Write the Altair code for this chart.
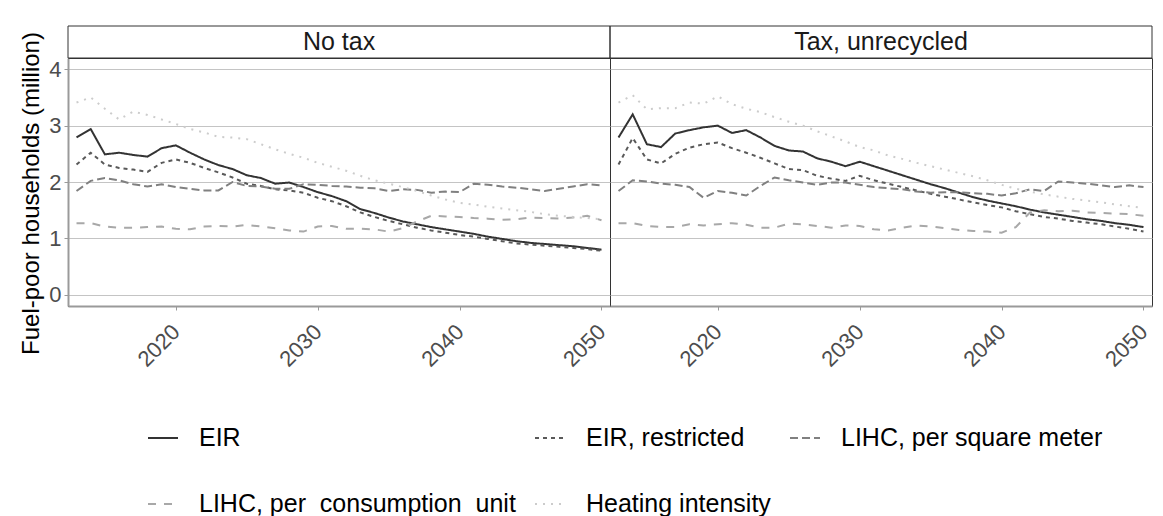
import altair as alt
import pandas as pd

years = list(range(2013, 2051))
panels = ["No tax", "Tax, unrecycled"]
series_names = ["EIR", "EIR, restricted", "LIHC, per square meter",
                "LIHC, per\u00a0 consumption\u00a0 unit", "Heating intensity"]
x_ticks = [2020, 2030, 2040, 2050]
y_ticks = [0, 1, 2, 3, 4]

# ---- No tax ----
notax_eir = [2.79, 2.94, 2.49, 2.52, 2.48, 2.45, 2.60, 2.65, 2.52, 2.40,
             2.30, 2.23, 2.12, 2.07, 1.97, 1.99, 1.91, 1.82, 1.75, 1.66,
             1.52, 1.45, 1.37, 1.30, 1.25, 1.20, 1.16, 1.12, 1.08, 1.03,
             0.99, 0.95, 0.92, 0.90, 0.88, 0.86, 0.83, 0.80]
notax_eir_r = [2.31, 2.52, 2.31, 2.25, 2.22, 2.18, 2.34, 2.40, 2.34, 2.25,
               2.17, 2.08, 1.97, 1.93, 1.87, 1.85, 1.81, 1.72, 1.66, 1.57,
               1.46, 1.38, 1.31, 1.25, 1.19, 1.14, 1.10, 1.06, 1.03, 0.99,
               0.95, 0.91, 0.89, 0.87, 0.85, 0.83, 0.81, 0.78]
notax_lihc_m2 = [1.84, 2.02, 2.07, 2.03, 1.96, 1.92, 1.96, 1.91, 1.88, 1.85,
                 1.85, 2.00, 1.93, 1.92, 1.88, 1.88, 1.96, 1.95, 1.93, 1.92,
                 1.90, 1.89, 1.84, 1.87, 1.86, 1.81, 1.83, 1.82, 1.97, 1.95,
                 1.92, 1.90, 1.87, 1.84, 1.88, 1.92, 1.96, 1.94]
notax_lihc_cu = [1.27, 1.27, 1.21, 1.19, 1.19, 1.20, 1.21, 1.17, 1.16, 1.21,
                 1.22, 1.21, 1.24, 1.21, 1.18, 1.14, 1.12, 1.21, 1.22, 1.17,
                 1.17, 1.16, 1.12, 1.18, 1.30, 1.40, 1.39, 1.38, 1.36, 1.35,
                 1.33, 1.34, 1.37, 1.36, 1.35, 1.37, 1.40, 1.32]
notax_heat = [3.41, 3.50, 3.30, 3.11, 3.25, 3.19, 3.11, 3.03, 2.94, 2.88,
              2.80, 2.79, 2.76, 2.67, 2.58, 2.50, 2.43, 2.34, 2.27, 2.20,
              2.11, 2.03, 1.97, 1.91, 1.84, 1.76, 1.69, 1.63, 1.60, 1.56,
              1.53, 1.50, 1.47, 1.43, 1.40, 1.38, 1.36, 1.34]

# ---- Tax, unrecycled ----
tax_eir = [2.79, 3.20, 2.67, 2.62, 2.86, 2.92, 2.97, 3.00, 2.87, 2.92,
           2.79, 2.64, 2.56, 2.54, 2.42, 2.36, 2.28, 2.36, 2.28, 2.20,
           2.12, 2.04, 1.96, 1.89, 1.81, 1.73, 1.67, 1.62, 1.57, 1.51,
           1.46, 1.42, 1.38, 1.34, 1.31, 1.27, 1.24, 1.20]
tax_eir_r = [2.31, 2.78, 2.40, 2.33, 2.50, 2.61, 2.67, 2.70, 2.60, 2.52,
             2.43, 2.33, 2.23, 2.21, 2.11, 2.06, 2.02, 2.11, 2.03, 1.97,
             1.91, 1.85, 1.79, 1.74, 1.69, 1.64, 1.59, 1.55, 1.48, 1.43,
             1.38, 1.35, 1.31, 1.28, 1.25, 1.21, 1.17, 1.12]
tax_lihc_m2 = [1.84, 2.03, 2.01, 1.97, 1.95, 1.91, 1.72, 1.84, 1.81, 1.76,
               1.93, 2.08, 2.03, 1.99, 1.95, 1.99, 1.99, 1.95, 1.91, 1.89,
               1.87, 1.83, 1.81, 1.82, 1.82, 1.80, 1.79, 1.76, 1.80, 1.87,
               1.84, 2.01, 1.99, 1.97, 1.94, 1.91, 1.94, 1.91]
tax_lihc_cu = [1.27, 1.27, 1.22, 1.20, 1.20, 1.25, 1.23, 1.25, 1.27, 1.24,
               1.19, 1.19, 1.26, 1.25, 1.22, 1.19, 1.23, 1.22, 1.16, 1.14,
               1.19, 1.23, 1.21, 1.18, 1.15, 1.13, 1.12, 1.10, 1.20, 1.46,
               1.50, 1.48, 1.49, 1.46, 1.45, 1.44, 1.43, 1.40]
tax_heat = [3.41, 3.54, 3.29, 3.31, 3.31, 3.41, 3.39, 3.52, 3.38, 3.30,
            3.24, 3.15, 3.07, 3.00, 2.90, 2.81, 2.72, 2.62, 2.56, 2.47,
            2.41, 2.34, 2.28, 2.22, 2.16, 2.10, 2.03, 1.95, 1.88, 1.83,
            1.78, 1.74, 1.70, 1.67, 1.64, 1.60, 1.57, 1.54]

colors = ["#333333", "#595959", "#808080", "#a8a8a8", "#cccccc"]
dashes = [[1, 0], [4, 4], [8, 4], [8, 8], [2, 6]]

table = {
    "No tax": [notax_eir, notax_eir_r, notax_lihc_m2, notax_lihc_cu, notax_heat],
    "Tax, unrecycled": [tax_eir, tax_eir_r, tax_lihc_m2, tax_lihc_cu, tax_heat],
}
rows = []
for p in panels:
    for s, vals in zip(series_names, table[p]):
        for yr, v in zip(years, vals):
            rows.append({"panel": p, "series": s, "year": yr, "value": v})
df = pd.DataFrame(rows)

FONT = "Liberation Sans"
W1, W2, H, HS = 542, 542, 248, 32

legend = alt.Legend(
    title=None, orient="none", legendX=79, legendY=364, direction="horizontal",
    columns=3, symbolType="stroke", symbolSize=900, symbolStrokeWidth=2,
    labelFontSize=25, labelFont=FONT, labelColor="#000000", labelLimit=600,
    columnPadding=15, rowPadding=37, labelOffset=20, padding=0,
)


def panel(name, first, w):
    if first:
        yax = alt.Axis(values=y_ticks, title="Fuel-poor households (million)",
                       grid=True, gridColor="#c4c4c4", domain=True, domainColor="#9a9a9a",
                       domainWidth=2, tickColor="#9a9a9a", tickSize=4, labelPadding=3,
                       labelFontSize=22, labelColor="#4d4d4d", titleFontSize=24,
                       titleFontWeight="normal", titleColor="#000000", titlePadding=5,
                       titleY=135)
    else:
        yax = alt.Axis(values=y_ticks, title=None, labels=False, ticks=False, domain=False,
                       grid=True, gridColor="#c4c4c4")
    xax = alt.Axis(values=x_ticks, format="d", title=None, grid=False, labelAngle=-45,
                   labelAlign="right", labelBaseline="middle", labelPadding=18,
                   labelFontSize=22, labelColor="#4d4d4d", tickColor="#9a9a9a",
                   tickSize=4, domainColor="#9a9a9a", domainWidth=2)
    lines = alt.Chart(df).transform_filter(alt.datum.panel == name).mark_line(
        strokeWidth=2
    ).encode(
        x=alt.X("year:Q", scale=alt.Scale(domain=[2012.4, 2050.6], nice=False, zero=False), axis=xax),
        y=alt.Y("value:Q", scale=alt.Scale(domain=[-0.2, 4.2], nice=False, zero=False), axis=yax),
        color=alt.Color("series:N", scale=alt.Scale(domain=series_names, range=colors), legend=legend),
        strokeDash=alt.StrokeDash("series:N", scale=alt.Scale(domain=series_names, range=dashes), legend=legend),
        detail="series:N",
    )
    strip_df = pd.DataFrame({"label": [name]})
    strip_box = alt.Chart(strip_df).mark_rect(
        fillOpacity=0, stroke="#333333", strokeWidth=1
    ).encode(x=alt.value(0), x2=alt.value(w), y=alt.value(-HS), y2=alt.value(0))
    strip_text = alt.Chart(strip_df).mark_text(
        fontSize=25, font=FONT, color="#1a1a1a", baseline="middle"
    ).encode(text="label:N", x=alt.value(w / 2), y=alt.value(-HS / 2))
    return alt.layer(lines, strip_box, strip_text).properties(width=w, height=H)


chart = alt.hconcat(
    panel("No tax", True, W1), panel("Tax, unrecycled", False, W2), spacing=0, bounds="flush"
).resolve_scale(color="shared", strokeDash="shared").properties(
    padding={"left": 11, "top": 17, "right": 0, "bottom": 0}
).configure(font=FONT).configure_view(stroke="#333333", strokeWidth=1)

chart.save("out.html", embed_options={"renderer": "svg", "actions": False})
